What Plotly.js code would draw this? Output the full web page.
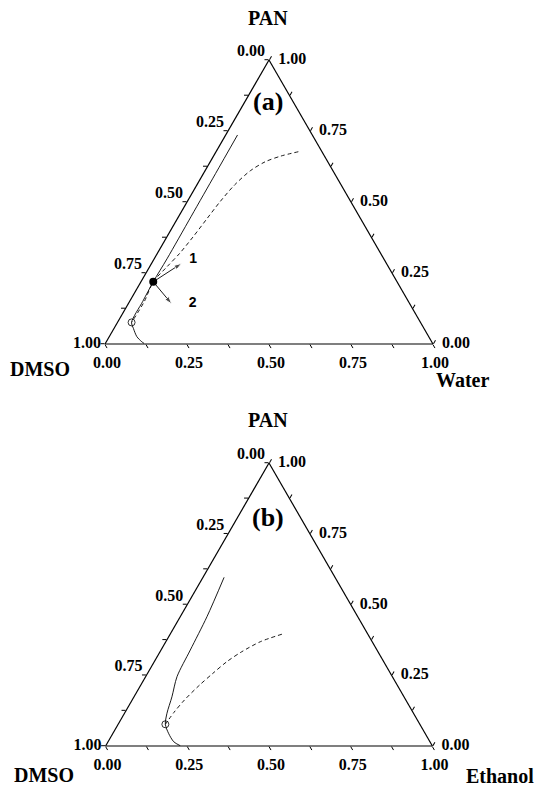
<!DOCTYPE html>
<html><head><meta charset="utf-8">
<script src="https://cdn.plot.ly/plotly-3.0.1.min.js"></script>
<style>html,body{margin:0;padding:0;background:#fff}#chart{width:548px;height:787px}</style>
</head><body><div id="chart"></div>
<script>
// Axis ticks (label shown = 1 - axis value, as in the reference)
const tickVals = [0, 0.125, 0.25, 0.375, 0.5, 0.625, 0.75, 0.875, 1];
const tickText = ['1.00', '', '0.75', '', '0.50', '', '0.25', '', '0.00'];
// Edge tick labels drawn as text: left edge (DMSO fraction), right edge (PAN fraction)
const edgeTickPan = [1, 0.75, 0.5, 0.25, 0];
const leftTickText = ['0.00', '0.25', '0.50', '0.75', '1.00'];
const rightTickText = ['1.00', '0.75', '0.50', '0.25', '0.00'];

// Panel (a): PAN / DMSO / Water  (a = PAN, c = Water, b = DMSO)
const binodalA_pan   = [0.736, 0.600, 0.450, 0.300, 0.219, 0.150, 0.076, 0.055, 0.026, 0.008, 0.002];
const binodalA_water = [0.036, 0.037, 0.038, 0.039, 0.0375, 0.040, 0.043, 0.059, 0.084, 0.108, 0.118];
const spinodalA_pan   = [0.677, 0.662, 0.642, 0.610, 0.560, 0.500, 0.440, 0.378, 0.319, 0.272, 0.219, 0.150, 0.076];
const spinodalA_water = [0.251, 0.206, 0.168, 0.138, 0.115, 0.100, 0.090, 0.080, 0.068, 0.053, 0.0375, 0.045, 0.043];
const pointA_filled = {pan: [0.219], water: [0.0375]};
const pointA_open   = {pan: [0.076], water: [0.043]};
const arrow1_pan = [0.219, 0.284], arrow1_water = [0.0375, 0.0918];
const arrow2_pan = [0.219, 0.141], arrow2_water = [0.0375, 0.133];
const labels_pan = [0.298, 0.141], labels_water = [0.120, 0.197], labels_text = ['1', '2'];

// Panel (b): PAN / DMSO / Ethanol  (a = PAN, c = Ethanol, b = DMSO)
const binodalB_pan     = [0.596, 0.457, 0.339, 0.245, 0.174, 0.1155, 0.0767, 0.045, 0.015, 0.001];
const binodalB_ethanol = [0.0646, 0.0817, 0.0896, 0.096, 0.116, 0.130, 0.1445, 0.170, 0.201, 0.228];
const spinodalB_pan     = [0.395, 0.369, 0.333, 0.298, 0.257, 0.2155, 0.1625, 0.120, 0.0767];
const spinodalB_ethanol = [0.342, 0.290, 0.250, 0.222, 0.200, 0.180, 0.160, 0.150, 0.1445];
const pointB_open = {pan: [0.0767], ethanol: [0.1445]};

function tern(pan, other, sub, extra) {
  return Object.assign({
    type: 'scatterternary', subplot: sub, showlegend: false, hoverinfo: 'skip', cliponaxis: false,
    a: pan, c: other, b: pan.map((v, i) => 1 - v - other[i])
  }, extra);
}
const solid = {mode: 'lines', line: {color: '#000', width: 0.9, shape: 'spline', smoothing: 0.8}};
const dashed = {mode: 'lines', line: {color: '#000', width: 0.9, dash: '4px,3px', shape: 'spline', smoothing: 0.8}};
const arrowStyle = {mode: 'lines+markers', line: {color: '#000', width: 0.9},
  marker: {symbol: ['circle', 'arrow'], size: [0, 8], angleref: 'previous', color: '#000'}};
const tickFont = {family: 'Liberation Serif', size: 16, color: '#000', weight: 'bold'};

function edgeLabels(sub) {
  const zeros = edgeTickPan.map(() => 0);
  const left = {type: 'scatterternary', subplot: sub, showlegend: false, hoverinfo: 'skip', cliponaxis: false,
    a: edgeTickPan, b: edgeTickPan.map(v => 1 - v), c: zeros, mode: 'text',
    text: leftTickText.map(t => t + '\u00a0'),
    textposition: ['top left', 'top left', 'top left', 'top left', 'middle left'], textfont: tickFont};
  const right = {type: 'scatterternary', subplot: sub, showlegend: false, hoverinfo: 'skip', cliponaxis: false,
    a: edgeTickPan, b: zeros, c: edgeTickPan.map(v => 1 - v), mode: 'markers+text',
    marker: {size: 13, opacity: 0}, text: rightTickText,
    textposition: 'middle right', textfont: tickFont};
  return [left, right];
}

const traces = [
  tern(binodalA_pan, binodalA_water, 'ternary', solid),
  tern(spinodalA_pan, spinodalA_water, 'ternary', dashed),
  tern(arrow1_pan, arrow1_water, 'ternary', arrowStyle),
  tern(arrow2_pan, arrow2_water, 'ternary', arrowStyle),
  tern(pointA_filled.pan, pointA_filled.water, 'ternary', {mode: 'markers', marker: {symbol: 'circle', size: 8, color: '#000'}}),
  tern(pointA_open.pan, pointA_open.water, 'ternary', {mode: 'markers', marker: {symbol: 'circle-open', size: 7, color: '#000', line: {width: 0.8}}}),
  tern(labels_pan, labels_water, 'ternary', {mode: 'text', text: labels_text,
    textfont: {family: 'Liberation Sans', size: 14, color: '#000', weight: 'bold'}}),
  tern(binodalB_pan, binodalB_ethanol, 'ternary2', solid),
  tern(spinodalB_pan, spinodalB_ethanol, 'ternary2', dashed),
  tern(pointB_open.pan, pointB_open.ethanol, 'ternary2', {mode: 'markers', marker: {symbol: 'circle-open', size: 7, color: '#000', line: {width: 0.8}}})
].concat(edgeLabels('ternary'), edgeLabels('ternary2'));

const W = 548, H = 787;
function axis(showLabels) {
  return {
    title: {text: ''}, min: 0, showgrid: false, showline: true, linecolor: '#000', linewidth: 1.2,
    ticks: 'outside', ticklen: 4, tickwidth: 1, tickcolor: '#000',
    tickmode: 'array', tickvals: tickVals, ticktext: tickText, showticklabels: showLabels,
    tickfont: tickFont
  };
}
function ternLayout(top, bottom) {
  return {
    domain: {x: [105 / W, 433 / W], y: [1 - bottom / H, 1 - top / H]},
    bgcolor: '#fff', sum: 1,
    aaxis: axis(false), baxis: axis(true), caxis: axis(false)
  };
}
const titleFont = {family: 'Liberation Serif', size: 20, color: '#000', weight: 'bold'};
function ann(text, x, y, size) {
  return {text: text, xref: 'paper', yref: 'paper', x: x / W, y: 1 - y / H, showarrow: false,
    xanchor: 'center', yanchor: 'middle', font: Object.assign({}, titleFont, size ? {size: size} : {})};
}
const layout = {
  width: W, height: H, margin: {l: 0, r: 0, t: 0, b: 0},
  paper_bgcolor: '#fff', showlegend: false,
  ternary: ternLayout(60, 344),
  ternary2: ternLayout(463, 746),
  annotations: [
    ann('PAN', 268, 18), ann('DMSO', 40, 369), ann('Water', 462, 380), ann('(a)', 268, 102, 26),
    ann('PAN', 268, 420), ann('DMSO', 44, 775), ann('Ethanol', 500, 776), ann('(b)', 268, 517, 26)
  ]
};
Plotly.newPlot('chart', traces, layout, {staticPlot: true});
</script>
</body></html>
